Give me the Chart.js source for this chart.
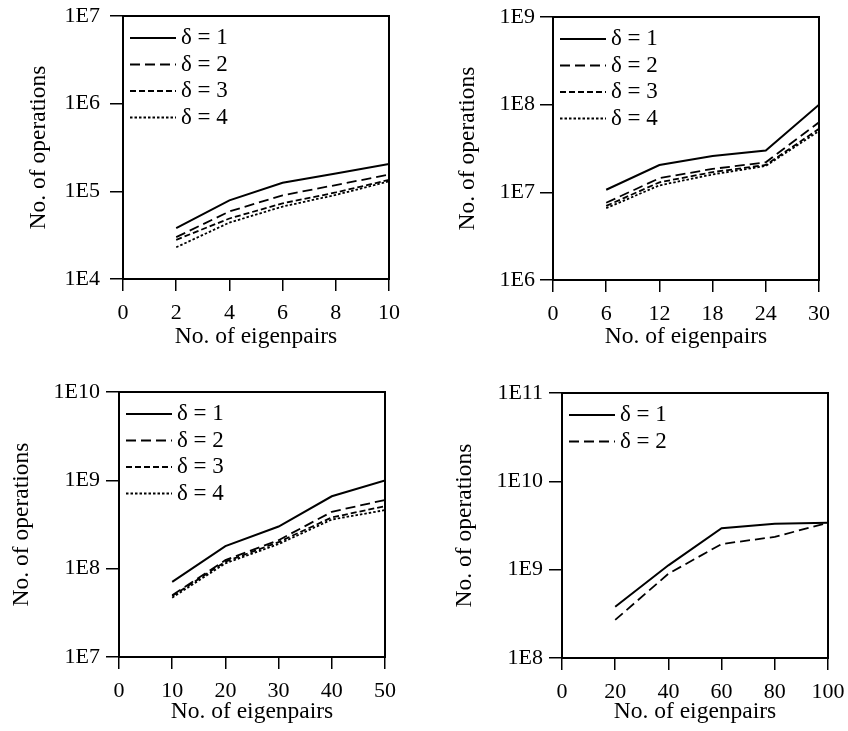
<!DOCTYPE html>
<html><head><meta charset="utf-8">
<script src="https://cdn.jsdelivr.net/npm/chart.js@4.4.0/dist/chart.umd.min.js"></script>
<style>
html,body{margin:0;padding:0;background:#fff;}
#wrap{position:relative;width:848px;height:731px;overflow:hidden;background:#fff;}
.cv{position:absolute;}
</style></head><body>
<div id="wrap">
<div class="cv" style="left:0px;top:0px;width:424px;height:355px"><canvas id="c1"></canvas></div>
<div class="cv" style="left:424px;top:0px;width:424px;height:355px"><canvas id="c2"></canvas></div>
<div class="cv" style="left:0px;top:370px;width:424px;height:361px"><canvas id="c3"></canvas></div>
<div class="cv" style="left:424px;top:370px;width:424px;height:361px"><canvas id="c4"></canvas></div>
</div>
<script>
// ---- data ----
const seriesLabels = ['δ = 1', 'δ = 2', 'δ = 3', 'δ = 4'];
const xTitle = 'No. of eigenpairs';
const yTitle = 'No. of operations';

const c1X = [2, 4, 6, 8, 10];
const c1D1 = [3.8e4, 7.9e4, 1.25e5, 1.6e5, 2.05e5];
const c1D2 = [3.0e4, 5.9e4, 9.0e4, 1.18e5, 1.55e5];
const c1D3 = [2.8e4, 4.9e4, 7.3e4, 9.7e4, 1.35e5];
const c1D4 = [2.3e4, 4.4e4, 6.7e4, 9.1e4, 1.3e5];
const c1Exp = [4, 5, 6, 7];

const c2X = [6, 12, 18, 24, 30];
const c2D1 = [1.07e7, 2.05e7, 2.6e7, 3.0e7, 1.0e8];
const c2D2 = [7.6e6, 1.45e7, 1.85e7, 2.2e7, 6.3e7];
const c2D3 = [7.0e6, 1.3e7, 1.7e7, 2.05e7, 5.3e7];
const c2D4 = [6.6e6, 1.2e7, 1.6e7, 2.0e7, 5.0e7];
const c2Exp = [6, 7, 8, 9];

const c3X = [10, 20, 30, 40, 50];
const c3D1 = [7.1e7, 1.8e8, 3.0e8, 6.6e8, 1.0e9];
const c3D2 = [5.0e7, 1.25e8, 2.1e8, 4.4e8, 6.0e8];
const c3D3 = [4.9e7, 1.2e8, 2.0e8, 3.8e8, 5.1e8];
const c3D4 = [4.7e7, 1.15e8, 1.9e8, 3.6e8, 4.6e8];
const c3Exp = [7, 8, 9, 10];

const c4X = [20, 40, 60, 80, 100];
const c4D1 = [3.8e8, 1.12e9, 2.95e9, 3.3e9, 3.4e9];
const c4D2 = [2.7e8, 9.0e8, 1.95e9, 2.35e9, 3.4e9];
const c4Exp = [8, 9, 10, 11];

// ---- styling ----
const FONT_FAMILY = '"Liberation Serif", "Times New Roman", serif';
const dashes = [[], [10, 5], [6, 3], [2.5, 2]];

const boxPlugin = {
  id: 'boxFrame',
  afterDatasetsDraw(chart) {
    const a = chart.chartArea, ctx = chart.ctx;
    ctx.save();
    ctx.strokeStyle = '#000';
    ctx.lineWidth = 2;
    ctx.strokeRect(a.left, a.top, a.right - a.left, a.bottom - a.top);
    ctx.restore();
  }
};

const innerLegend = {
  id: 'innerLegend',
  afterDraw(chart) {
    const a = chart.chartArea, ctx = chart.ctx;
    ctx.save();
    chart.data.datasets.forEach((ds, i) => {
      const y = a.top + 22 + i * 26.5;
      ctx.beginPath();
      ctx.setLineDash(ds.borderDash || []);
      ctx.lineWidth = ds.borderWidth;
      ctx.strokeStyle = '#000';
      ctx.moveTo(a.left + 7, y);
      ctx.lineTo(a.left + 53, y);
      ctx.stroke();
      ctx.setLineDash([]);
      ctx.fillStyle = '#000';
      ctx.font = '23px ' + FONT_FAMILY;
      ctx.textAlign = 'left';
      ctx.textBaseline = 'middle';
      ctx.fillText(ds.label, a.left + 58, y);
    });
    ctx.restore();
  }
};

function makeChart(id, box, plot, xs, series, xMax, xStep, exps, yTitlePad, xTitlePad, yTickPad) {
  const datasets = series.map((vals, i) => ({
    label: seriesLabels[i],
    data: xs.map((x, j) => ({ x: x, y: vals[j] })),
    borderColor: '#000',
    borderWidth: i === 0 ? 2 : 1.8,
    borderDash: dashes[i],
    pointRadius: 0,
    tension: 0,
    fill: false
  }));
  const font = { family: FONT_FAMILY, size: 22 };
  const titleFont = { family: FONT_FAMILY, size: 23.5 };
  const gridX = { display: true, drawOnChartArea: false, drawTicks: true, tickLength: 12, color: '#000', lineWidth: 1.5 };
  const gridY = { display: true, drawOnChartArea: false, drawTicks: true, tickLength: 13, color: '#000', lineWidth: 1.5 };
  new Chart(document.getElementById(id), {
    type: 'line',
    data: { datasets },
    plugins: [boxPlugin, innerLegend],
    options: {
      responsive: true,
      maintainAspectRatio: false,
      animation: false,
      devicePixelRatio: 1,
      layout: { padding: { left: 0, top: plot.T - box.y, right: box.x + box.w - plot.R, bottom: 0 } },
      plugins: { legend: { display: false }, tooltip: { enabled: false } },
      scales: {
        x: {
          type: 'linear', min: 0, max: xMax,
          ticks: { stepSize: xStep, font, color: '#000', padding: 9, maxRotation: 0, autoSkip: false },
          grid: gridX,
          border: { display: true, color: '#000', width: 2 },
          title: { display: true, text: xTitle, font: titleFont, color: '#000', padding: { top: 0, bottom: xTitlePad } },
          afterFit: s => { s.height = box.y + box.h - plot.B; s.paddingLeft = 0; s.paddingRight = 0; }
        },
        y: {
          type: 'logarithmic', min: Math.pow(10, exps[0]), max: Math.pow(10, exps[exps.length - 1]),
          afterBuildTicks: s => { s.ticks = exps.map(e => ({ value: Math.pow(10, e) })); },
          ticks: { font, color: '#000', padding: yTickPad, callback: v => '1E' + Math.round(Math.log10(v)) },
          grid: gridY,
          border: { display: true, color: '#000', width: 2 },
          title: { display: true, text: yTitle, font: titleFont, color: '#000', padding: { top: yTitlePad, bottom: 0 } },
          afterFit: s => { s.width = plot.L - box.x; s.paddingTop = 0; s.paddingBottom = 0; }
        }
      }
    }
  });
}

makeChart('c1', { x: 0, y: 0, w: 424, h: 355 }, { L: 123, T: 16, R: 389, B: 279 }, c1X, [c1D1, c1D2, c1D3, c1D4], 10, 2, c1Exp, 25, 4, 10);
makeChart('c2', { x: 424, y: 0, w: 424, h: 355 }, { L: 553, T: 17, R: 819, B: 280 }, c2X, [c2D1, c2D2, c2D3, c2D4], 30, 6, c2Exp, 30, 4, 5);
makeChart('c3', { x: 0, y: 370, w: 424, h: 361 }, { L: 119, T: 392, R: 385, B: 657 }, c3X, [c3D1, c3D2, c3D3, c3D4], 50, 10, c3Exp, 8, 5, 6);
makeChart('c4', { x: 424, y: 370, w: 424, h: 361 }, { L: 562, T: 393, R: 828, B: 658 }, c4X, [c4D1, c4D2], 100, 20, c4Exp, 27, 5, 6);
</script>
</body></html>
